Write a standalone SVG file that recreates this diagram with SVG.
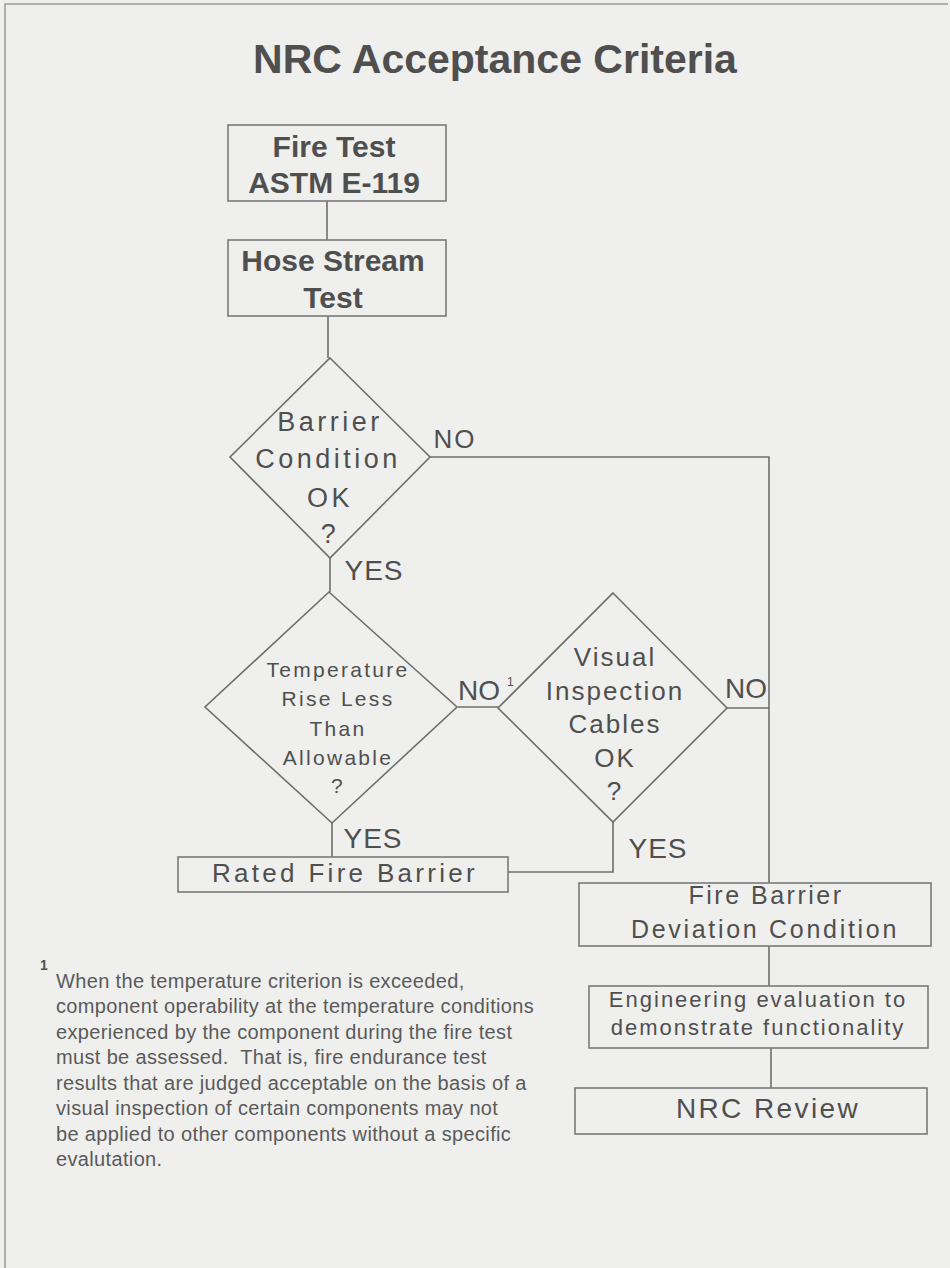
<svg xmlns="http://www.w3.org/2000/svg" width="950" height="1268" viewBox="0 0 950 1268">
<style>
.bg{fill:#efefee}
.box{fill:none;stroke:#7a7a7a;stroke-width:1.6}
.dia{fill:none;stroke:#6e6e6e;stroke-width:1.6}
.ln{fill:none;stroke:#6e6e6e;stroke-width:1.6}
.t{font-family:"Liberation Sans",Arial,sans-serif;fill:#4f4f4f;text-anchor:middle}
.b{font-weight:bold}
.fn{font-family:"Liberation Sans",Arial,sans-serif;fill:#5a5a5a;font-size:20px;letter-spacing:0.35px}
</style>
<rect class="bg" x="0" y="0" width="950" height="1268"/>
<g id="page-border">
<path d="M5,1268 V4 H948" fill="none" stroke="#9a9a9a" stroke-width="1.5"/>
</g>
<text id="title" class="t b" x="495" y="73" font-size="41">NRC Acceptance Criteria</text>

<g id="connectors">
<path class="ln" d="M327,201 V240"/>
<path class="ln" d="M328,316 V358"/>
<path class="ln" d="M430,457 H769 V883"/>
<path class="ln" d="M330,558 V592"/>
<path class="ln" d="M458,707 H498"/>
<path class="ln" d="M727,708 H769"/>
<path class="ln" d="M332,823 V857"/>
<path class="ln" d="M613,822 V872 H508"/>
<path class="ln" d="M769,946 V986"/>
<path class="ln" d="M771,1048 V1088"/>
</g>

<g id="fire-test">
<rect class="box" x="228" y="125" width="218" height="76"/>
<text class="t b" x="334" y="157" font-size="30">Fire Test</text>
<text class="t b" x="334" y="193" font-size="30">ASTM E-119</text>
</g>

<g id="hose-stream">
<rect class="box" x="228" y="240" width="218" height="76"/>
<text class="t b" x="333" y="271" font-size="30">Hose Stream</text>
<text class="t b" x="333" y="308" font-size="30">Test</text>
</g>

<g id="barrier-condition">
<polygon class="dia" points="330,358 430,457 330,558 230,457"/>
<g font-size="27" letter-spacing="3.5">
<text class="t" x="330" y="431">Barrier</text>
<text class="t" x="328" y="468">Condition</text>
<text class="t" x="330" y="507">OK</text>
<text class="t" x="330" y="543">?</text>
</g>
<text class="t" x="455" y="448" font-size="26" letter-spacing="2">NO</text>
<text class="t" x="374" y="580" font-size="28" letter-spacing="1">YES</text>
</g>

<g id="temperature-rise">
<polygon class="dia" points="329,592 457,707 332,823 205,707"/>
<g font-size="21" letter-spacing="2.3">
<text class="t" x="338" y="677">Temperature</text>
<text class="t" x="338" y="706">Rise Less</text>
<text class="t" x="338" y="736">Than</text>
<text class="t" x="338" y="765">Allowable</text>
<text class="t" x="338" y="793">?</text>
</g>
<text class="t" x="479" y="700" font-size="28">NO</text>
<text x="507" y="686" font-size="12" font-family="Liberation Sans,Arial,sans-serif" fill="#4f4f4f">1</text>
<text class="t" x="373" y="848" font-size="28" letter-spacing="1">YES</text>
</g>

<g id="visual-inspection">
<polygon class="dia" points="613,593 727,708 613,822 498,708"/>
<g font-size="26" letter-spacing="2">
<text class="t" x="615" y="666">Visual</text>
<text class="t" x="615" y="700">Inspection</text>
<text class="t" x="615" y="733">Cables</text>
<text class="t" x="615" y="767">OK</text>
<text class="t" x="615" y="800">?</text>
</g>
<text class="t" x="746" y="698" font-size="28">NO</text>
<text class="t" x="658" y="858" font-size="28" letter-spacing="1">YES</text>
</g>

<g id="rated-fire-barrier">
<rect class="box" x="178" y="857" width="330" height="35"/>
<text class="t" x="345" y="882" font-size="26" letter-spacing="3.3">Rated Fire Barrier</text>
</g>

<g id="fire-barrier-deviation">
<rect class="box" x="579" y="883" width="352" height="63"/>
<text class="t" x="766" y="904" font-size="25" letter-spacing="2.5">Fire Barrier</text>
<text class="t" x="765" y="938" font-size="25" letter-spacing="2.7">Deviation Condition</text>
</g>

<g id="engineering-evaluation">
<rect class="box" x="589" y="986" width="339" height="62"/>
<text class="t" x="758" y="1007" font-size="22" letter-spacing="2">Engineering evaluation to</text>
<text class="t" x="758" y="1035" font-size="22" letter-spacing="2">demonstrate functionality</text>
</g>

<g id="nrc-review">
<rect class="box" x="575" y="1088" width="352" height="46"/>
<text class="t" x="768" y="1118" font-size="28" letter-spacing="2.4">NRC Review</text>
</g>

<g id="footnote">
<text x="40" y="970" font-size="14" font-weight="bold" font-family="Liberation Sans,Arial,sans-serif" fill="#4f4f4f">1</text>
<text class="fn" x="56" y="988">When the temperature criterion is exceeded,</text>
<text class="fn" x="56" y="1013">component operability at the temperature conditions</text>
<text class="fn" x="56" y="1039">experienced by the component during the fire test</text>
<text class="fn" x="56" y="1064" xml:space="preserve">must be assessed.  That is, fire endurance test</text>
<text class="fn" x="56" y="1090">results that are judged acceptable on the basis of a</text>
<text class="fn" x="56" y="1115">visual inspection of certain components may not</text>
<text class="fn" x="56" y="1141">be applied to other components without a specific</text>
<text class="fn" x="56" y="1166">evalutation.</text>
</g>
</svg>
